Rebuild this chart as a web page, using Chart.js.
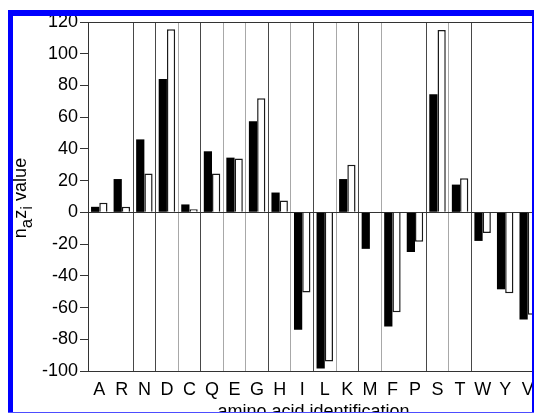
<!DOCTYPE html>
<html><head><meta charset="utf-8">
<script src="https://cdn.jsdelivr.net/npm/chart.js@4.4.1/dist/chart.umd.min.js"></script>
<style>
html,body{margin:0;padding:0;background:#fff;overflow:hidden;}
#wrap{position:relative;width:534px;height:414px;overflow:hidden;background:#fff;}
#c{position:absolute;left:0;top:0;}
.b{position:absolute;background:#0000ff;}
</style></head><body>
<div id="wrap">
<canvas id="c" width="560" height="440" style="width:560px;height:440px"></canvas>
<div class="b" style="left:8px;top:10px;width:5px;height:404px"></div>
<div class="b" style="left:8px;top:10px;width:526px;height:6px"></div>
<div class="b" style="left:532px;top:10px;width:2px;height:404px"></div>
<div class="b" style="left:8px;top:412px;width:526px;height:1px;background:#4d4dff"></div>
<div style="position:absolute;left:0;top:413px;width:534px;height:1px;background:#fff"></div>
</div>
<script>
const categories = ['A','R','N','D','C','Q','E','G','H','I','L','K','M','F','P','S','T','W','Y','V'];
const filledValues = [3.5, 21, 46, 84, 5, 38.5, 34.5, 57.5, 12.5, -74, -98.5, 21, -23, -72, -25, 74.5, 17.5, -18, -48.5, -67.5];
const openValues = [6, 3.5, 24.5, 115.5, 2, 24.5, 34, 72, 7.5, -50.5, -94, 30, 0, -63, -18.5, 115, 21.5, -13, -51, -64.5];
const yMin = -100, yMax = 120, yStep = 20;
const xTitle = 'amino acid identification';
const yTitleParts = [['n', false], ['a', true], ['z', false], ['i', true], [' value', false]];

const DARK = '#484848', GRAY = '#a8a8a8', NONE = 'rgba(0,0,0,0)';
// vertical separator style at each category boundary (index 0..20)
const sepColors = [NONE, NONE, DARK, DARK, GRAY, DARK, GRAY, GRAY, DARK, GRAY, DARK, GRAY, DARK, GRAY, NONE, DARK, GRAY, DARK, NONE, NONE, NONE];

const FONT = '"Liberation Sans", Arial, Helvetica, sans-serif';

const yTitlePlugin = {
  id: 'yTitle',
  afterDraw(chart) {
    const ctx = chart.ctx;
    const big = '18px ' + FONT, small = '17px ' + FONT;
    let total = 0;
    const widths = yTitleParts.map(([t, sub]) => { ctx.font = sub ? small : big; const w = ctx.measureText(t).width; total += w; return w; });
    ctx.save();
    ctx.translate(26, 198);
    ctx.rotate(-Math.PI / 2);
    ctx.fillStyle = '#000';
    ctx.textBaseline = 'alphabetic';
    ctx.textAlign = 'left';
    let x = -total / 2;
    yTitleParts.forEach(([t, sub], i) => {
      ctx.font = sub ? small : big;
      ctx.fillText(t, x, sub ? 6 : 0);
      x += widths[i];
    });
    ctx.restore();
  }
};

new Chart(document.getElementById('c'), {
  type: 'bar',
  data: {
    labels: categories,
    datasets: [
      { data: filledValues, backgroundColor: '#000', borderColor: '#000', borderWidth: 0 },
      { data: openValues, backgroundColor: '#fff', borderColor: '#1a1a1a', borderWidth: 1.5 }
    ]
  },
  options: {
    responsive: false,
    animation: false,
    devicePixelRatio: 1,
    categoryPercentage: 0.73,
    barPercentage: 1.0,
    layout: { padding: { left: 0, top: 22, right: 21, bottom: 0 } },
    plugins: { legend: { display: false }, tooltip: { enabled: false }, title: { display: false } },
    scales: {
      x: {
        afterFit: s => { s.height = 69; },
        grid: {
          offset: true,
          drawTicks: false,
          color: ctx => sepColors[ctx.index] || NONE,
          lineWidth: 1
        },
        border: { display: true, color: '#333', width: 1 },
        ticks: { color: '#000', font: { family: FONT, size: 18 }, padding: 8, maxRotation: 0, autoSkip: false },
        title: { display: true, text: xTitle, color: '#000', font: { family: FONT, size: 18 }, padding: { top: 0, bottom: 17 } }
      },
      y: {
        min: yMin, max: yMax,
        afterFit: s => { s.width = 88; },
        grid: {
          drawOnChartArea: true,
          drawTicks: true,
          tickLength: 8,
          color: ctx => (ctx.tick && (ctx.tick.value === 0 || ctx.tick.value === yMax)) ? '#333' : NONE,
          tickColor: '#333',
          lineWidth: 1
        },
        border: { display: true, color: '#333', width: 1 },
        ticks: { stepSize: yStep, color: '#000', font: { family: FONT, size: 18 }, padding: 2 }
      }
    }
  },
  plugins: [yTitlePlugin]
});
</script>
</body></html>
